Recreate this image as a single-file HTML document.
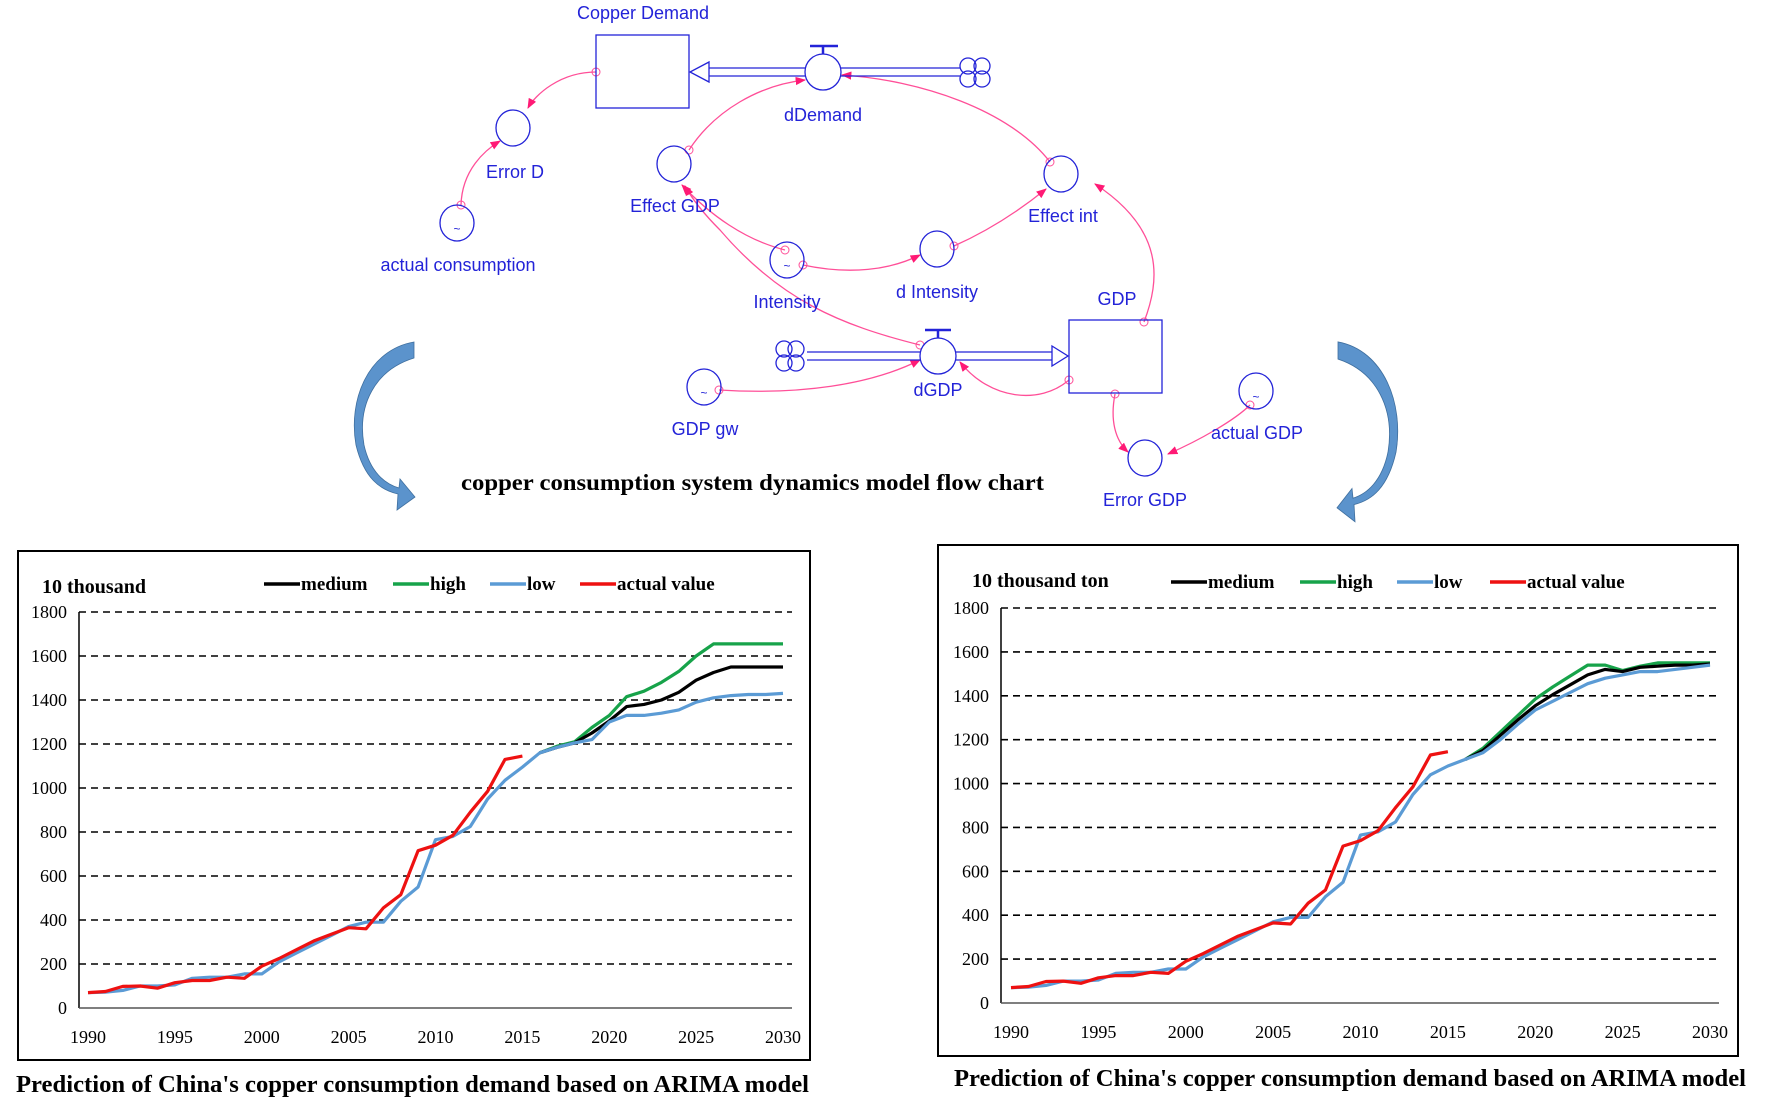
<!DOCTYPE html>
<html><head><meta charset="utf-8"><style>
html,body{margin:0;padding:0;background:#fff;}
svg{display:block;}
</style></head><body>
<svg id="root" width="1779" height="1111" viewBox="0 0 1779 1111" xmlns="http://www.w3.org/2000/svg">
<defs>
<marker id="ah" viewBox="0 0 10 10" refX="9" refY="5" markerWidth="8" markerHeight="8" orient="auto-start-reverse"><path d="M0,1 L10,5 L0,9 Z" fill="#ff1a75"/></marker>
</defs>
<g id="diagram" font-family="'Liberation Sans', sans-serif" font-size="18" fill="#2323d8">
  <g fill="none" stroke="#ff4f98" stroke-width="1.3">
    <path d="M596,72 C560,72 535,95 528,108" marker-end="url(#ah)"/>
    <path d="M461,205 C462,170 485,150 500,141" marker-end="url(#ah)"/>
    <path d="M689,150 C715,110 760,85 805,80" marker-end="url(#ah)"/>
    <path d="M1050,162 C1010,110 920,80 842,75" marker-end="url(#ah)"/>
    <path d="M954,246 C990,230 1020,210 1046,189" marker-end="url(#ah)"/>
    <path d="M803,265 C850,275 890,270 920,255" marker-end="url(#ah)"/>
    <path d="M785,250 C745,240 710,215 682,185" marker-end="url(#ah)"/>
    <path d="M920,345 C840,325 780,300 720,230 C700,210 690,195 685,186" marker-end="url(#ah)"/>
    <path d="M1144,322 C1160,280 1165,230 1095,184" marker-end="url(#ah)"/>
    <path d="M719,390 C800,395 870,385 920,360" marker-end="url(#ah)"/>
    <path d="M1069,380 C1040,405 990,400 960,362" marker-end="url(#ah)"/>
    <path d="M1115,394 C1110,420 1115,440 1128,452" marker-end="url(#ah)"/>
    <path d="M1250,405 C1235,420 1200,440 1168,454" marker-end="url(#ah)"/>
  </g>
  <g fill="none" stroke="#ff4f98" stroke-width="1">
    <circle cx="596" cy="72" r="4"/><circle cx="461" cy="205" r="4"/><circle cx="689" cy="150" r="4"/>
    <circle cx="1050" cy="162" r="4"/><circle cx="954" cy="246" r="4"/><circle cx="803" cy="265" r="4"/>
    <circle cx="785" cy="250" r="4"/><circle cx="920" cy="345" r="4"/><circle cx="1144" cy="322" r="4"/>
    <circle cx="719" cy="390" r="4"/><circle cx="1069" cy="380" r="4"/><circle cx="1115" cy="394" r="4"/><circle cx="1250" cy="405" r="4"/>
  </g>
  <g fill="none" stroke="#2323d8" stroke-width="1.3">
    <rect x="596" y="35" width="93" height="73"/>
    <rect x="1069" y="320" width="93" height="73"/>
    <path d="M709,68 L805,68 M709,76 L805,76 M841,68 L960,68 M841,76 L960,76"/>
    <path d="M709,62 L690,72 L709,82 Z" fill="#fff"/>
    <path d="M807,352 L920,352 M807,360 L920,360 M956,352 L1052,352 M956,360 L1052,360"/>
    <path d="M1052,346 L1068,356 L1052,366 Z" fill="#fff"/>
    <ellipse cx="823" cy="72" rx="18" ry="18" fill="#fff"/>
    <path d="M810,46 L838,46 M823,46 L823,54" stroke-width="2.5"/>
    <ellipse cx="938" cy="356" rx="18" ry="18" fill="#fff"/>
    <path d="M925,330 L951,330 M938,330 L938,338" stroke-width="2.5"/>
    <g><circle cx="968" cy="66" r="8"/><circle cx="982" cy="66" r="8"/><circle cx="968" cy="79" r="8"/><circle cx="982" cy="79" r="8"/></g>
    <g><circle cx="784" cy="349" r="8"/><circle cx="796" cy="349" r="8"/><circle cx="784" cy="363" r="8"/><circle cx="796" cy="363" r="8"/></g>
    <ellipse cx="513" cy="128" rx="17" ry="18"/>
    <ellipse cx="457" cy="223" rx="17" ry="18"/>
    <ellipse cx="674" cy="164" rx="17" ry="18"/>
    <ellipse cx="1061" cy="174" rx="17" ry="18"/>
    <ellipse cx="787" cy="260" rx="17" ry="18"/>
    <ellipse cx="937" cy="249" rx="17" ry="18"/>
    <ellipse cx="704" cy="387" rx="17" ry="18"/>
    <ellipse cx="1256" cy="391" rx="17" ry="18"/>
    <ellipse cx="1145" cy="458" rx="17" ry="18"/>
  </g>
  <g font-size="12" text-anchor="middle"><text x="457" y="233">~</text><text x="787" y="270">~</text><text x="704" y="397">~</text><text x="1256" y="401">~</text></g>
  <g text-anchor="middle">
    <text x="643" y="19">Copper Demand</text>
    <text x="823" y="121">dDemand</text>
    <text x="515" y="178">Error D</text>
    <text x="458" y="271">actual consumption</text>
    <text x="675" y="212">Effect GDP</text>
    <text x="1063" y="222">Effect int</text>
    <text x="787" y="308">Intensity</text>
    <text x="937" y="298">d Intensity</text>
    <text x="1117" y="305">GDP</text>
    <text x="938" y="396">dGDP</text>
    <text x="705" y="435">GDP gw</text>
    <text x="1257" y="439">actual GDP</text>
    <text x="1145" y="506">Error GDP</text>
  </g>
</g>
<text x="461" y="490" textLength="583" lengthAdjust="spacingAndGlyphs" font-family="'Liberation Serif', serif" font-weight="bold" font-size="23" fill="#000">copper consumption system dynamics model flow chart</text>
<path fill="#5b93cc" stroke="#3f6f9f" stroke-width="0.8" d="M414,342 C368,350 348,400 356,445 C364,478 380,490 398,494 L397,510 L415,497 L400,479 L399,488 C385,484 370,472 364,445 C357,405 375,370 414,358 Z"/>
<path transform="translate(1752,-24) scale(-1,1.07)" fill="#5b93cc" stroke="#3f6f9f" stroke-width="0.8" d="M414,342 C368,350 348,400 356,445 C364,478 380,490 398,494 L397,510 L415,497 L400,479 L399,488 C385,484 370,472 364,445 C357,405 375,370 414,358 Z"/>
<g id="chartL"></g>
<g id="chartR"></g>
</svg>
<script>
const years = [];
for (let y = 1990; y <= 2030; y++) years.push(y);
const yTicks = [0,200,400,600,800,1000,1200,1400,1600,1800];
const xTicks = [1990,1995,2000,2005,2010,2015,2020,2025,2030];
const actualValues = [70,75,98,100,90,115,125,125,140,135,190,225,265,305,335,365,360,455,515,715,740,785,890,985,1130,1145];
const leftLow = [70,72,80,100,100,105,135,140,140,155,155,210,250,290,330,370,390,390,485,550,765,780,825,950,1035,1095,1160,1185,1205,1220,1300,1330,1330,1340,1355,1390,1410,1420,1425,1425,1430];
const forecastYears = [2016,2017,2018,2019,2020,2021,2022,2023,2024,2025,2026,2027,2028,2029,2030];
const leftMedium = [1160,1185,1205,1250,1305,1370,1380,1400,1435,1490,1525,1550,1550,1550,1550];
const leftHigh = [1160,1190,1210,1275,1330,1415,1440,1480,1530,1600,1655,1655,1655,1655,1655];
const rightLow = [70,72,80,100,100,105,135,140,140,155,155,210,250,290,330,370,390,390,485,550,765,780,825,950,1040,1080,1110,1140,1200,1270,1335,1375,1415,1455,1480,1495,1510,1510,1520,1530,1540];
const rightMedium = [1110,1150,1220,1290,1355,1405,1450,1495,1520,1510,1530,1535,1540,1540,1545];
const rightHigh = [1110,1160,1235,1310,1385,1440,1490,1540,1540,1515,1535,1550,1550,1550,1550];
const legendLabels = ['medium','high','low','actual value'];
const colors = {medium:'#000000', high:'#17a34a', low:'#5b9bd5', actual:'#ee1111'};
const NS = 'http://www.w3.org/2000/svg';
function mk(tag, attrs, parent){const e=document.createElementNS(NS,tag);for(const k in attrs)e.setAttribute(k,attrs[k]);parent.appendChild(e);return e;}
function drawChart(g, cfg){
  const xs = v => cfg.x0 + (v-1990)*(cfg.x1-cfg.x0)/40;
  const ys = v => cfg.y0 - v*(cfg.y0-cfg.y1)/1800;
  const box = mk('rect',{x:cfg.bx,y:cfg.by,width:cfg.bw,height:cfg.bh,fill:'none',stroke:'#000','stroke-width':2},g);
  
  
  yTicks.forEach(t=>{
    if(t>0){const l=mk('line',{x1:cfg.ax,x2:cfg.axEnd,y1:ys(t),y2:ys(t),stroke:'#000','stroke-width':1.6,'stroke-dasharray':'7,5'},g);
      
      }
    const tx=mk('text',{x:cfg.ax-12,y:ys(t)+6,'text-anchor':'end','font-family':"'Liberation Serif', serif",'font-size':18,fill:'#000'},g);
    tx.textContent=t;
    
    
  });
  const ya=mk('line',{x1:cfg.ax,x2:cfg.ax,y1:ys(1800),y2:ys(0),stroke:'#000','stroke-width':1.5},g);
  
  
  const xa=mk('line',{x1:cfg.ax,x2:cfg.axEnd,y1:ys(0),y2:ys(0),stroke:'#555','stroke-width':1.5},g);
  
  
  xTicks.forEach(t=>{
    const tx=mk('text',{x:xs(t),y:ys(0)+35,'text-anchor':'middle','font-family':"'Liberation Serif', serif",'font-size':18,fill:'#000'},g);
    tx.textContent=t;
    
    
  });
  function line(xv, yv, color, name){
    const d = yv.map((v,i)=>(i?'L':'M')+xs(xv[i]).toFixed(1)+','+ys(v).toFixed(1)).join(' ');
    const p=mk('path',{d:d,fill:'none',stroke:color,'stroke-width':3.2,'stroke-linejoin':'round'},g);
    
    
  }
  line(forecastYears, cfg.high, colors.high, 'series-high');
  line(forecastYears, cfg.medium, colors.medium, 'series-medium');
  line(years, cfg.low, colors.low, 'series-low');
  line(years.slice(0,actualValues.length), actualValues, colors.actual, 'series-actual-value');
  const title=mk('text',{x:cfg.tx,y:cfg.ty,'font-family':"'Liberation Serif', serif",'font-weight':'bold','font-size':20,fill:'#000'},g);
  title.textContent=cfg.title;
  
  
  const lc=[colors.medium,colors.high,colors.low,colors.actual];
  legendLabels.forEach((lab,i)=>{
    const lx=cfg.legX[i];
    const ln=mk('line',{x1:lx,x2:lx+36,y1:cfg.legY,y2:cfg.legY,stroke:lc[i],'stroke-width':3.5},g);
    
    
    const t=mk('text',{x:lx+37,y:cfg.legY+6,'font-family':"'Liberation Serif', serif",'font-weight':'bold','font-size':19,fill:'#000'},g);
    t.textContent=lab;
    
    
  });
  const cap=mk('text',{x:cfg.capX,y:cfg.capY,textLength:cfg.capW,lengthAdjust:'spacingAndGlyphs','font-family':"'Liberation Serif', serif",'font-weight':'bold','font-size':24,fill:'#000'},g);
  cap.textContent="Prediction of China's copper consumption demand based on ARIMA model";
  
  
}
drawChart(document.getElementById('chartL'),{bx:18,by:551,bw:792,bh:509,x0:88,x1:783,y0:1008,y1:612,ax:79,axEnd:792,
  low:leftLow,medium:leftMedium,high:leftHigh,title:'10 thousand',tx:42,ty:593,legX:[264,393,490,580],legY:584,capX:16,capW:793,capY:1092});
drawChart(document.getElementById('chartR'),{bx:938,by:545,bw:800,bh:511,x0:1011,x1:1710,y0:1003,y1:608,ax:1001,axEnd:1719,
  low:rightLow,medium:rightMedium,high:rightHigh,title:'10 thousand ton',tx:972,ty:587,legX:[1171,1300,1397,1490],legY:582,capX:954,capW:792,capY:1086});
</script>
</body></html>
